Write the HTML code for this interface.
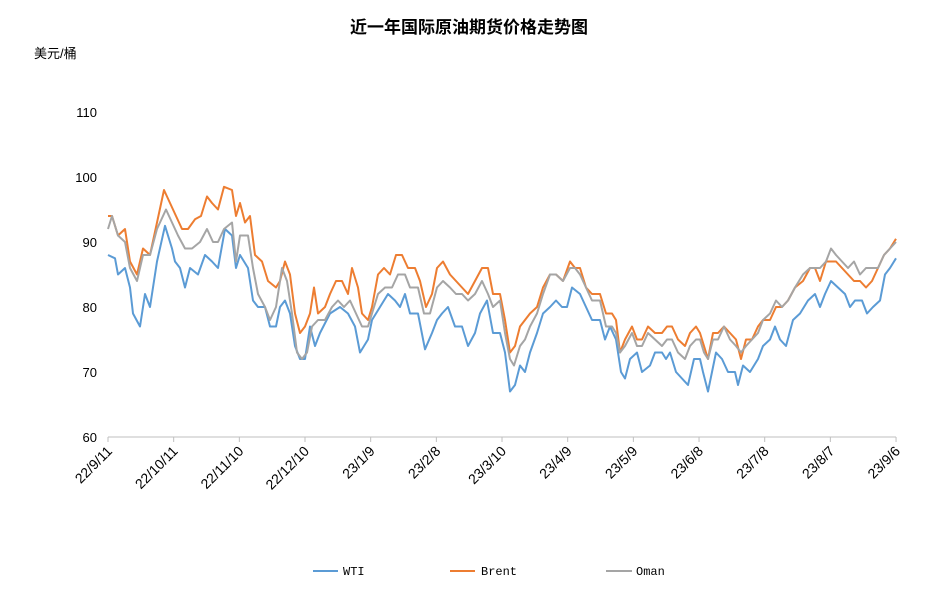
<!DOCTYPE html>
<html><head><meta charset="utf-8"><style>
body{margin:0;background:#fff;}
svg text{font-family:"Liberation Sans","Noto Sans CJK SC",sans-serif;}
</style></head><body>
<svg id="c" width="939" height="601" xmlns="http://www.w3.org/2000/svg">
<rect width="939" height="601" fill="#fff"/>
<text x="469" y="33" text-anchor="middle" font-size="17" font-weight="bold" fill="#000">近一年国际原油期货价格走势图</text>
<text x="34" y="58" font-size="13" fill="#000">美元/桶</text>
<g font-size="13" fill="#000" text-anchor="end">
<text x="97" y="117">110</text><text x="97" y="182">100</text><text x="97" y="247">90</text>
<text x="97" y="312">80</text><text x="97" y="377">70</text><text x="97" y="442">60</text>
</g>
<line x1="108" y1="437" x2="896" y2="437" stroke="#bfbfbf" stroke-width="1"/>
<g id="ticks"></g>
<g id="xl" font-size="14" fill="#000" text-anchor="end"></g>
<g id="series" fill="none" stroke-width="2" stroke-linejoin="round"></g>
<g font-size="12" fill="#000" style="font-family:'Liberation Mono',monospace">
<line x1="313" y1="571" x2="338" y2="571" stroke="#5b9bd5" stroke-width="2"/><text x="343" y="575" style="font-family:'Liberation Mono',monospace">WTI</text>
<line x1="450" y1="571" x2="475" y2="571" stroke="#ed7d31" stroke-width="2"/><text x="481" y="575" style="font-family:'Liberation Mono',monospace">Brent</text>
<line x1="606" y1="571" x2="632" y2="571" stroke="#a5a5a5" stroke-width="2"/><text x="636" y="575" style="font-family:'Liberation Mono',monospace">Oman</text>
</g>
</svg>
<script>
var labels=["22/9/11","22/10/11","22/11/10","22/12/10","23/1/9","23/2/8","23/3/10","23/4/9","23/5/9","23/6/8","23/7/8","23/8/7","23/9/6"];
var t='',xl='';
for(var i=0;i<13;i++){var x=108+i*65.67;
t+='<line x1="'+x+'" y1="437" x2="'+x+'" y2="442" stroke="#bfbfbf"/>';
xl+='<text transform="translate('+(x+5)+',452) rotate(-45)">'+labels[i]+'</text>';}
document.getElementById('ticks').innerHTML=t;document.getElementById('xl').innerHTML=xl;
var wti=[108,88,115,87.5,118,85,125,86,130,83,133,79,140,77,145,82,150,80,157,87,165,92.5,172,89,175,87,180,86,185,83,190,86,198,85,205,88,212,87,218,86,225,92,232,91,236,86,240,88,248,86,253,81,258,80,265,80,270,77,276,77,280,80,285,81,290,79,295,74,300,72,305,72,310,77,315,74,320,76,330,79,340,80,348,79,355,77,360,73,368,75,372,78,380,80,388,82,395,81,400,80,405,82,410,79,418,79,425,73.5,432,76,437,78,442,79,448,80,455,77,462,77,468,74,475,76,480,79,487,81,493,76,500,76,505,73,510,67,515,68,520,71,525,70,530,73,537,76,543,79,550,80,556,81,562,80,567,80,572,83,580,82,586,80,592,78,600,78,605,75,610,77,616,75,621,70,625,69,630,72,637,73,642,70,650,71,655,73,662,73,666,72,670,73,676,70,682,69,688,68,694,72,700,72,703,70,708,67,712,70,716,73,722,72,728,70,735,70,738,68,743,71,750,70,758,72,763,74,770,75,775,77,780,75,786,74,793,78,800,79,808,81,815,82,820,80,825,82,831,84,838,83,845,82,850,80,855,81,862,81,867,79,873,80,880,81,885,85,890,86,896,87.5];
var brent=[108,94,112,94,118,91,125,92,130,87,137,85,143,89,150,88,157,93,164,98,170,96,176,94,182,92,188,92,195,93.5,201,94,207,97,212,96,218,95,224,98.5,232,98,236,94,240,96,245,93,250,94,255,88,262,87,268,84,276,83,280,84,285,87,290,85,295,79,300,76,305,77,310,79,314,83,318,79,325,80,330,82,336,84,342,84,348,82,352,86,358,83,362,79,368,78,372,80,378,85,384,86,390,85,396,88,402,88,408,86,415,86,420,84,426,80,432,82,437,86,443,87,450,85,456,84,462,83,468,82,475,84,482,86,488,86,493,82,500,82,505,78,510,73,515,74,520,77,525,78,530,79,537,80,543,83,550,85,556,85,563,84,570,87,575,86,580,86,586,83,592,82,600,82,606,79,612,79,616,78,620,73,625,75,632,77,637,75,642,75,648,77,655,76,662,76,667,77,672,77,678,75,685,74,690,76,696,77,700,76,704,74,708,72,713,76,718,76,724,77,730,76,736,75,741,72,746,75,752,75,758,77,763,78,770,78,776,80,782,80,788,81,795,83,803,84,810,86,815,86,820,84,826,87,831,87,836,87,842,86,848,85,854,84,860,84,866,83,872,84,878,86,884,88,890,89,896,90.5];
var oman=[108,92,112,94,118,91,125,90,130,86,137,84,143,88,150,88,157,92,166,95,172,93,178,91,185,89,192,89,200,90,207,92,213,90,218,90,224,92,232,93,236,87,240,91,248,91,253,86,258,82,265,80,270,78,276,80,282,86,287,84,292,79,297,73,302,72,307,73,312,77,318,78,325,78,332,80,338,81,344,80,350,81,356,79,362,77,368,77,372,79,378,82,385,83,392,83,398,85,405,85,410,83,418,83,424,79,430,79,437,83,443,84,450,83,456,82,462,82,468,81,475,82,482,84,488,82,493,80,500,81,505,76,510,72,514,71,520,74,525,75,530,77,537,79,543,82,550,85,556,85,563,84,570,86,575,86,580,85,586,83,592,81,600,81,606,77,612,77,616,76,620,73,625,74,632,76,637,74,642,74,648,76,655,75,662,74,667,75,672,75,678,73,685,72,690,74,696,75,700,75,704,73,708,72,713,75,718,75,724,77,730,75,736,74,741,73,746,74,752,75,758,76,763,78,770,79,776,81,782,80,788,81,795,83,803,85,810,86,815,86,820,86,826,87,831,89,836,88,842,87,848,86,854,87,860,85,866,86,872,86,878,86,884,88,890,89,896,90];
function pl(d,c){var p=[];for(var i=0;i<d.length;i+=2)p.push(d[i]+','+(437-(d[i+1]-60)*6.5).toFixed(1));return '<polyline stroke="'+c+'" points="'+p.join(' ')+'"/>';}
document.getElementById('series').innerHTML=pl(wti,'#5b9bd5')+pl(brent,'#ed7d31')+pl(oman,'#a5a5a5');
</script>
</body></html>
